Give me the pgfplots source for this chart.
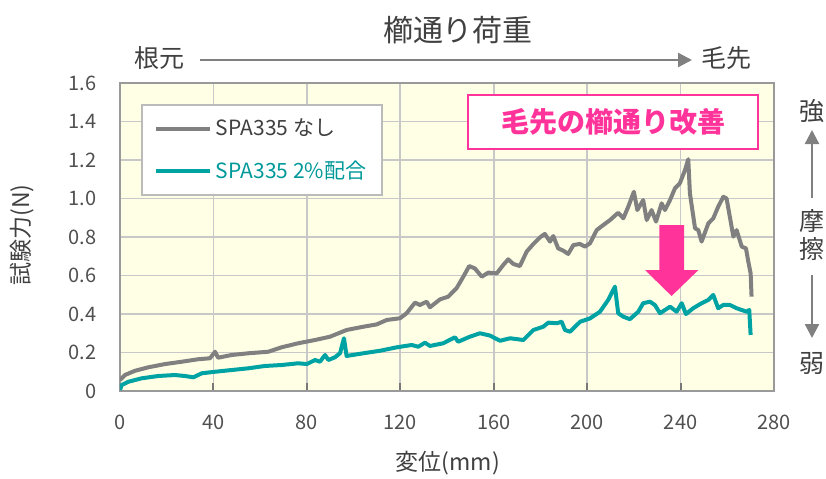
\documentclass[border=0pt]{standalone}
\usepackage{fontspec}
\setmainfont{Noto Sans CJK JP}
\usepackage{pgfplots}
\pgfplotsset{compat=1.18}
\usetikzlibrary{arrows.meta}
\definecolor{bgyellow}{HTML}{FFFFE6}
\definecolor{gridgray}{HTML}{C8C8C8}
\definecolor{axisgray}{HTML}{9A9A9A}
\definecolor{tickgray}{HTML}{777777}
\definecolor{labelgray}{HTML}{505050}
\definecolor{textgray}{HTML}{404040}
\definecolor{greyline}{HTML}{808080}
\definecolor{tealline}{HTML}{00A3A3}
\definecolor{tealtext}{HTML}{00999A}
\definecolor{pinkc}{HTML}{FF3399}
\definecolor{arrowgray}{HTML}{808080}
\definecolor{legendgray}{HTML}{BBBBBB}
\begin{document}
\begin{tikzpicture}
\path[use as bounding box] (-60pt,-43.5pt) rectangle (353pt,195.5pt);
\begin{axis}[
  at={(0pt,0pt)}, anchor=south west,
  width=327pt, height=154pt, scale only axis,
  xmin=0, xmax=280, ymin=0, ymax=1.6,
  xtick={0,40,80,120,160,200,240,280},
  ytick={0,0.2,0.4,0.6,0.8,1.0,1.2,1.4,1.6},
  yticklabels={0,0.2,0.4,0.6,0.8,1.0,1.2,1.4,1.6},
  /pgf/number format/assume math mode=true,
  grid=major,
  axis background/.style={fill=bgyellow},
  axis line style={draw=axisgray, line width=1pt},
  tick align=inside, xtick pos=bottom, ytick pos=left,
  major tick length=4pt,
  ytick style={draw=none},
  xtick style={draw=tickgray, line width=1pt},
  major grid style={draw=gridgray, line width=0.8pt},
  ticklabel style={font=\fontsize{10}{12}\selectfont, text=labelgray},
  xticklabel style={inner sep=0pt, yshift=-12pt},
  yticklabel style={inner sep=0pt, xshift=-11.5pt},
  legend style={at={(0,1)}, anchor=north west, xshift=10.5pt, yshift=-10.5pt,
    draw=legendgray, line width=1pt, fill=white,
    font=\fontsize{10.5}{12}\selectfont, text=textgray,
    inner xsep=6pt, inner ysep=5pt, row sep=7pt,
    cells={anchor=west}},
  legend image code/.code={\draw[#1] (0pt,0pt) -- (27pt,0pt);},
]
\addplot[draw=greyline, line width=2pt, line join=round] coordinates {
(0,0.057) (2.1,0.083) (6.4,0.105) (12.1,0.123) (19.3,0.14) (26.4,0.152)
(33.5,0.165) (38.5,0.17) (40.7,0.204) (42,0.173) (47.8,0.187) (55,0.196)
(63.5,0.204) (69.2,0.227) (76.3,0.248) (83.5,0.265) (89.9,0.282) (97,0.317)
(104.2,0.334) (109.9,0.346) (114.2,0.369) (119.9,0.378) (122.7,0.404)
(126.3,0.459) (128.4,0.447) (131.3,0.464) (132.7,0.435) (137,0.476)
(140.5,0.49) (144.1,0.534) (147,0.594) (149.5,0.649) (151.9,0.637)
(154.9,0.594) (157.7,0.615) (161.3,0.611) (164.1,0.655) (166.2,0.684)
(168.4,0.66) (171.2,0.649) (174.1,0.724) (177,0.764) (179.8,0.798)
(181.9,0.816) (184.1,0.776) (185.5,0.805) (187.6,0.741) (189.8,0.729)
(191.9,0.712) (194.1,0.758) (196.9,0.764) (199.1,0.75) (201.2,0.767)
(204.1,0.836) (206.9,0.862) (209.8,0.888) (213.3,0.926) (215.5,0.897)
(217.6,0.957) (220,1.035) (221.5,0.94) (224,0.992) (225.5,0.888)
(227.6,0.94) (229.5,0.88) (231.9,0.975) (233.3,0.94) (235.5,0.992)
(237.6,1.053) (239.7,1.079) (241.9,1.148) (243.3,1.204) (244,1.027)
(246.2,0.845) (247.6,0.836) (249,0.776) (251.9,0.871) (254,0.897)
(256.1,0.957) (258.3,1.009) (259.7,1.0) (261.1,0.905) (262.6,0.802)
(264,0.836) (266.2,0.75) (268,0.741) (269,0.672) (270,0.611) (270.4,0.49)
};
\addlegendentry{SPA335 なし}
\addplot[draw=tealline, line width=2pt, line join=round] coordinates {
(0,0.005) (0.7,0.031) (3.6,0.048) (9.3,0.066) (16.4,0.078) (23.5,0.083)
(27.8,0.078) (31.4,0.071) (35,0.092) (40.7,0.1) (47.8,0.109) (55,0.118)
(62,0.13) (69.2,0.135) (76.3,0.144) (80,0.14) (83.5,0.161) (85.6,0.152)
(87.8,0.187) (89.2,0.161) (92,0.175) (94.2,0.196) (95.9,0.274) (97,0.182)
(104.2,0.196) (111.3,0.209) (118.5,0.227) (124.9,0.239) (127.7,0.23)
(130.6,0.251) (132.7,0.234) (138.4,0.248) (143.4,0.279) (144.8,0.256)
(149.8,0.282) (154.1,0.3) (158.4,0.288) (162.7,0.261) (167,0.274)
(172.7,0.265) (177,0.317) (181.2,0.334) (183.4,0.355) (187,0.352)
(189.1,0.36) (190.5,0.317) (192.7,0.308) (197,0.36) (201.2,0.377)
(205.5,0.412) (209,0.473) (211.9,0.542) (213.3,0.404) (215.5,0.386)
(218.3,0.373) (221.9,0.412) (224,0.456) (226.9,0.464) (229,0.447)
(231.2,0.404) (235.5,0.438) (238.3,0.412) (240.5,0.456) (242.3,0.4)
(245.4,0.43) (249,0.456) (251.9,0.473) (254,0.499) (256.1,0.43)
(258.3,0.447) (261.1,0.447) (264,0.43) (268.3,0.412) (269.4,0.421)
(270,0.291)
};
\addlegendentry{\textcolor{tealtext}{SPA335 2\%配合}}
\end{axis}
% titles and labels
\node[text=textgray, font=\fontsize{15}{18}\selectfont] at (169pt,180.5pt) {櫛通り荷重};
\node[text=textgray, font=\fontsize{12.5}{15}\selectfont] at (20pt,166.5pt) {根元};
\node[text=textgray, font=\fontsize{12.5}{15}\selectfont] at (303pt,166.5pt) {毛先};
\draw[arrowgray, line width=1.2pt, -{Triangle[length=7pt,width=7pt]}] (40pt,165.5pt) -- (286pt,165.5pt);
\node[text=textgray, font=\fontsize{11.5}{14}\selectfont] at (164pt,-36pt) {変位(mm)};
\node[text=textgray, font=\fontsize{11.5}{14}\selectfont, rotate=90] at (-49pt,78pt) {試験力(N)};
% right side
\node[text=textgray, font=\fontsize{12.5}{15}\selectfont] at (346pt,140pt) {強};
\draw[arrowgray, line width=1.2pt, -{Triangle[length=7pt,width=7pt]}] (346pt,96.5pt) -- (346pt,130.5pt);
\node[text=textgray, font=\fontsize{12.5}{15}\selectfont] at (346pt,85pt) {摩};
\node[text=textgray, font=\fontsize{12.5}{15}\selectfont] at (346pt,71pt) {擦};
\draw[arrowgray, line width=1.2pt, -{Triangle[length=7pt,width=7pt]}] (346pt,58pt) -- (346pt,26.5pt);
\node[text=textgray, font=\fontsize{12.5}{15}\selectfont] at (346pt,14pt) {弱};
% annotation
\draw[pinkc, line width=1pt, fill=white] (174pt,121pt) rectangle (319pt,148pt);
\node[text=pinkc, font=\fontsize{14}{16}\selectfont\bfseries] at (246.5pt,134.5pt) {毛先の櫛通り改善};
\fill[pinkc] (269.7pt,83pt) -- (282pt,83pt) -- (282pt,60.5pt) -- (289.2pt,60.5pt)
  -- (275.8pt,47.5pt) -- (262.5pt,60.5pt) -- (269.7pt,60.5pt) -- cycle;
\end{tikzpicture}
\end{document}
